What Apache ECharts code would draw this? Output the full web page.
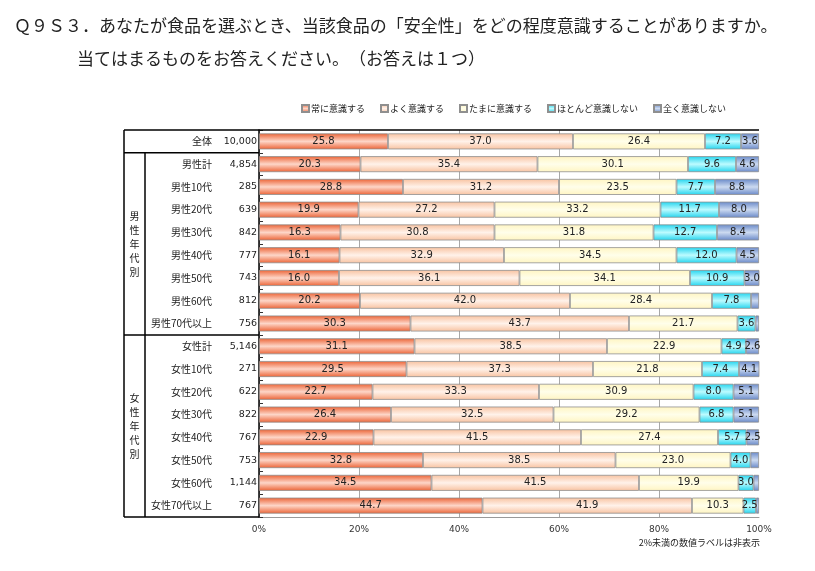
<!DOCTYPE html>
<html><head><meta charset="utf-8">
<script src="https://cdn.jsdelivr.net/npm/echarts@6/dist/echarts.min.js"></script>
<style>html,body{margin:0;padding:0;background:#fff}#c{width:815px;height:571px}</style>
</head><body><div id="c"></div>
<script>
const categories = ['全体','男性計','男性10代','男性20代','男性30代','男性40代','男性50代','男性60代','男性70代以上','女性計','女性10代','女性20代','女性30代','女性40代','女性50代','女性60代','女性70代以上'];
const counts = ['10,000','4,854','285','639','842','777','743','812','756','5,146','271','622','822','767','753','1,144','767'];
const seriesNames = ['常に意識する','よく意識する','たまに意識する','ほとんど意識しない','全く意識しない'];
const always    = [25.8,20.3,28.8,19.9,16.3,16.1,16.0,20.2,30.3,31.1,29.5,22.7,26.4,22.9,32.8,34.5,44.7];
const often     = [37.0,35.4,31.2,27.2,30.8,32.9,36.1,42.0,43.7,38.5,37.3,33.3,32.5,41.5,38.5,41.5,41.9];
const sometimes = [26.4,30.1,23.5,33.2,31.8,34.5,34.1,28.4,21.7,22.9,21.8,30.9,29.2,27.4,23.0,19.9,10.3];
const rarely    = [7.2,9.6,7.7,11.7,12.7,12.0,10.9,7.8,3.6,4.9,7.4,8.0,6.8,5.7,4.0,3.0,2.5];
const never     = [3.6,4.6,8.8,8.0,8.4,4.5,3.0,1.6,0.7,2.6,4.1,5.1,5.1,2.5,1.7,1.1,0.6];
const groupLabels = ['男性年代別','女性年代別'];
const titleLine1 = 'Ｑ９Ｓ３．あなたが食品を選ぶとき、当該食品の「安全性」をどの程度意識することがありますか。';
const titleLine2 = '当てはまるものをお答えください。　（お答えは１つ）';
const footnote = '2%未満の数値ラベルは非表示';

const JP = '"Noto Sans CJK JP", sans-serif';
const NUM = '"DejaVu Sans", sans-serif';

function grad(edge, mid) {
  return new echarts.graphic.LinearGradient(0, 0, 0, 1, [
    {offset: 0, color: edge}, {offset: 0.5, color: mid}, {offset: 1, color: edge}
  ]);
}
const fills = [
  grad('#EC6234', '#FDD6C8'),
  grad('#F8C2A0', '#FFF2EA'),
  grad('#FFF5C2', '#FFFEEA'),
  grad('#22D4EE', '#BDFBFF'),
  grad('#6888C8', '#CCDAF0')
];
const datasets = [always, often, sometimes, rarely, never];

const chart = echarts.init(document.getElementById('c'));
const option = {
  animation: false,
  backgroundColor: '#fff',
  title: [
    {text: titleLine1, left: 14, top: 17, padding: 0, textStyle: {fontFamily: JP, fontSize: 17, fontWeight: 'normal', color: '#222'}},
    {text: titleLine2, left: 77, top: 50, padding: 0, textStyle: {fontFamily: JP, fontSize: 17, fontWeight: 'normal', color: '#222'}}
  ],
  legend: {
    data: seriesNames, left: 301, top: 104, padding: 0, icon: 'rect', itemWidth: 7, itemHeight: 7, itemGap: 15,
    textStyle: {fontFamily: JP, fontSize: 9, color: '#222', padding: [0, 0, 0, -3]}
  },
  grid: {left: 259, right: 56, top: 130, bottom: 54, containLabel: false},
  xAxis: {
    type: 'value', min: 0, max: 100, interval: 20,
    axisLine: {show: true, lineStyle: {color: '#999'}},
    axisTick: {show: false},
    axisLabel: {formatter: '{value}%', fontFamily: NUM, fontSize: 9, color: '#333', margin: 8},
    splitLine: {show: true, showMaxLine: false, lineStyle: {color: '#a8a8a8', width: 1}}
  },
  yAxis: {
    type: 'category', data: categories, inverse: true,
    axisLine: {show: true, lineStyle: {color: '#000', width: 1.5}},
    axisTick: {show: true, inside: true, length: 4, lineStyle: {color: '#333'}},
    axisLabel: {
      margin: 2,
      formatter: (v, i) => '{n|' + v + '}{c|' + counts[i] + '}',
      rich: {
        n: {width: 80, align: 'right', fontFamily: JP, fontSize: 10, color: '#222'},
        c: {width: 45, align: 'right', fontFamily: NUM, fontSize: 9.5, color: '#222'}
      }
    }
  },
  series: seriesNames.map((name, k) => ({
    name, type: 'bar', stack: 'total', data: datasets[k], barWidth: 16,
    itemStyle: {color: fills[k], borderColor: '#8f8f8f', borderWidth: 0.8},
    label: {
      show: true, position: 'inside', fontFamily: NUM, fontSize: 10, color: '#222',
      formatter: p => p.value < 2 ? '' : p.value.toFixed(1)
    }
  }))
};
chart.setOption(option);

function drawTable() {
  const x0 = chart.convertToPixel({xAxisIndex: 0}, 0);
  const x100 = chart.convertToPixel({xAxisIndex: 0}, 100);
  const c0 = chart.convertToPixel({yAxisIndex: 0}, 0);
  const c1 = chart.convertToPixel({yAxisIndex: 0}, 1);
  const h = c1 - c0;
  const top = c0 - h / 2;
  const n = categories.length;
  const bottom = top + n * h;
  const tl = 124, sep = 145;
  const ln = (x1, y1, x2, y2, w) => ({type: 'line', shape: {x1, y1, x2, y2}, style: {stroke: '#000', lineWidth: w || 1.5}, z: 10});
  const vtext = (s, cy) => ({
    type: 'text', x: (tl + sep) / 2, y: cy, z: 10,
    style: {text: s.split('').join('\n'), fontFamily: JP, fontSize: 10, lineHeight: 14, fill: '#222', align: 'center', verticalAlign: 'middle'}
  });
  chart.setOption({graphic: [
    ln(tl, top, x100, top),
    ln(tl, top, tl, bottom),
    ln(tl, bottom, x0, bottom),
    ln(tl, top + h, x0, top + h),
    ln(tl, top + 9 * h, x0, top + 9 * h),
    ln(sep, top + h, sep, bottom),
    vtext(groupLabels[0], top + 5 * h),
    vtext(groupLabels[1], top + 13 * h),
    {type: 'text', x: x100 + 1, y: bottom + 26, z: 10,
     style: {text: footnote, fontFamily: JP, fontSize: 9, fill: '#222', align: 'right', verticalAlign: 'middle'}}
  ]});
}
drawTable();
</script>
</body></html>
